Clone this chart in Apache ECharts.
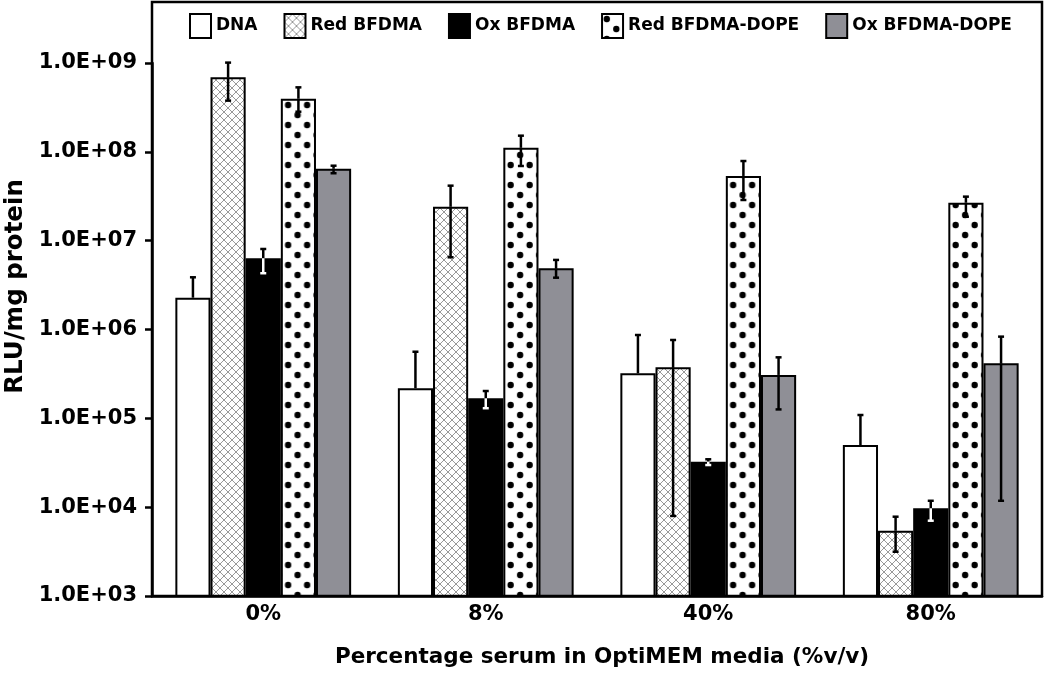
<!DOCTYPE html>
<html><head><meta charset="utf-8">
<script src="https://cdn.jsdelivr.net/npm/echarts@6/dist/echarts.min.js"></script>
<style>html,body{margin:0;padding:0;background:#fff}#c{width:1050px;height:691px}</style>
</head><body><div id="c"></div>
<script>
// ---- data ----
const categories = ['0%', '8%', '40%', '80%'];
const seriesNames = ['DNA', 'Red BFDMA', 'Ox BFDMA', 'Red BFDMA-DOPE', 'Ox BFDMA-DOPE'];
const dna      = [2.28e6, 2.18e5, 3.21e5, 5.01e4];
const redBfdma = [6.9e8, 2.41e7, 3.76e5, 5.43e3];
const oxBfdma  = [6.34e6, 1.68e5, 3.25e4, 9.71e3];
const redDope  = [3.97e8, 1.11e8, 5.35e7, 2.68e7];
const oxDope   = [6.46e7, 4.89e6, 3.08e5, 4.17e5];
// error bar ends (upper / lower); null = not shown
const dnaHigh      = [3.87e6, 5.62e5, 8.67e5, 1.09e5];
const dnaLow       = [null, null, null, null];
const redBfdmaHigh = [1.01e9, 4.16e7, 7.62e5, 7.81e3];
const redBfdmaLow  = [3.77e8, 6.5e6, 7.96e3, 3.15e3];
const oxBfdmaHigh  = [8.06e6, 2.03e5, 3.46e4, 1.18e4];
const oxBfdmaLow   = [4.3e6, 1.30e5, 2.98e4, 7.04e3];
const redDopeHigh  = [5.32e8, 1.52e8, 7.88e7, 3.13e7];
const redDopeLow   = [2.83e8, 6.93e7, 2.87e7, 1.86e7];
const oxDopeHigh   = [6.98e7, 6.07e6, 4.86e5, 8.31e5];
const oxDopeLow    = [5.74e7, 3.83e6, 1.26e5, 1.18e4];
const yTickLabels = ['1.0E+03', '1.0E+04', '1.0E+05', '1.0E+06', '1.0E+07', '1.0E+08', '1.0E+09'];
const xAxisTitle = 'Percentage serum in OptiMEM media (%v/v)';
const yAxisTitle = 'RLU/mg protein';

// ---- patterns ----
function hatchCanvas() {
  const s = 8;
  const c = document.createElement('canvas'); c.width = s; c.height = s;
  const g = c.getContext('2d');
  g.fillStyle = '#fff'; g.fillRect(0, 0, s, s);
  g.strokeStyle = '#999'; g.lineWidth = 1;
  g.beginPath();
  g.moveTo(-1, -1); g.lineTo(s + 1, s + 1);
  g.moveTo(s + 1, -1); g.lineTo(-1, s + 1);
  g.stroke();
  return c;
}
function dotCanvas() {
  const c = document.createElement('canvas'); c.width = 19; c.height = 20;
  const g = c.getContext('2d');
  g.fillStyle = '#fff'; g.fillRect(0, 0, 19, 20);
  g.fillStyle = '#000';
  [[4.75, 5], [14.25, 15]].forEach(p => { g.beginPath(); g.arc(p[0], p[1], 3.2, 0, Math.PI * 2); g.fill(); });
  return c;
}
const hatch = { image: hatchCanvas(), repeat: 'repeat' };
const dots = { image: dotCanvas(), repeat: 'repeat' };

const barValues = [dna, redBfdma, oxBfdma, redDope, oxDope];
const highs = [dnaHigh, redBfdmaHigh, oxBfdmaHigh, redDopeHigh, oxDopeHigh];
const lows = [dnaLow, redBfdmaLow, oxBfdmaLow, redDopeLow, oxDopeLow];
const fills = ['#ffffff', hatch, '#000000', dots, '#8f8f96'];
const innerErrColor = ['#000', '#000', '#fff', '#000', '#000'];
const CAT_GAP = 0.21;

function errRender(k) {
  return function (params, api) {
    const ci = api.value(0);
    const val = api.value(3);
    const p0 = api.coord([0, val]);
    const p1 = api.coord([1, val]);
    const band = p1[0] - p0[0];
    const bw = band * (1 - CAT_GAP) / 5;
    const base = api.coord([ci, val]);
    const x = base[0] + (k - 2) * bw;
    const yv = base[1];
    const yh = api.coord([ci, api.value(1)])[1];
    const lowV = api.value(2);
    const cap = 3;
    const ch = [];
    const st = { stroke: '#000', lineWidth: 2.5 };
    ch.push({ type: 'line', shape: { x1: x, y1: yv, x2: x, y2: yh }, style: st });
    ch.push({ type: 'line', shape: { x1: x - cap, y1: yh, x2: x + cap, y2: yh }, style: st });
    if (lowV && !isNaN(lowV) && lowV < val) {
      const yl = api.coord([ci, lowV])[1];
      const s2 = { stroke: innerErrColor[k], lineWidth: 2.5 };
      ch.push({ type: 'line', shape: { x1: x, y1: yv, x2: x, y2: yl }, style: s2 });
      ch.push({ type: 'line', shape: { x1: x - cap, y1: yl, x2: x + cap, y2: yl }, style: s2 });
    }
    return { type: 'group', children: ch };
  };
}

const series = [];
seriesNames.forEach((name, k) => {
  series.push({
    name: name, type: 'bar', barGap: '0%', barCategoryGap: (CAT_GAP * 100) + '%',
    data: barValues[k],
    itemStyle: { color: fills[k], borderColor: '#000', borderWidth: 2 },
    emphasis: { disabled: true }, z: 2
  });
});
seriesNames.forEach((name, k) => {
  series.push({
    name: name + ' err', type: 'custom', z: 5, silent: true,
    renderItem: errRender(k),
    encode: { x: 0, y: 1 },
    data: categories.map((c, i) => [i, highs[k][i], lows[k][i] == null ? barValues[k][i] : lows[k][i], barValues[k][i]])
  });
});

const chart = echarts.init(document.getElementById('c'), null, { renderer: 'canvas' });
const FONT = '"DejaVu Sans", sans-serif';
chart.setOption({
  animation: false,
  backgroundColor: '#fff',
  textStyle: { fontFamily: FONT },
  grid: { left: 152, right: 8, top: 63, bottom: 95, containLabel: false, outerBoundsMode: 'none' },
  legend: {
    data: seriesNames, left: 184, top: 8, icon: 'rect', itemWidth: 21, itemHeight: 24, itemGap: 26,
    textStyle: { fontSize: 17, fontWeight: 'bold', color: '#000', fontFamily: FONT }
  },
  xAxis: {
    type: 'category', data: categories,
    axisLine: { lineStyle: { color: '#000', width: 2.5 } },
    axisTick: { show: false },
    axisLabel: { fontSize: 21, fontWeight: 'bold', color: '#000', margin: 8 },
    name: xAxisTitle, nameLocation: 'middle', nameGap: 50,
    nameTextStyle: { fontSize: 21.5, fontWeight: 'bold', color: '#000', padding: [0, 0, 0, 10] }
  },
  yAxis: {
    type: 'log', logBase: 10, min: 1e3, max: 1e9,
    axisLine: { show: true, lineStyle: { color: '#000', width: 2.5 } },
    axisTick: { show: true, length: 7, lineStyle: { color: '#000', width: 2.5 } },
    minorTick: { show: false },
    splitLine: { show: false },
    axisLabel: {
      fontSize: 21, fontWeight: 'bold', color: '#000', margin: 15,
      formatter: v => yTickLabels[Math.round(Math.log10(v)) - 3]
    },
    name: yAxisTitle, nameLocation: 'middle', nameGap: 124, nameRotate: 90,
    nameTextStyle: { fontSize: 24.5, fontWeight: 'bold', color: '#000', padding: [0, 0, 0, 86] }
  },
  graphic: [{
    type: 'rect', shape: { x: 152, y: 2, width: 890, height: 594 },
    style: { fill: null, stroke: '#000', lineWidth: 2.5 }, z: 10, silent: true
  }],
  series: series
});

// align dot pattern phase to each dotted bar
(function () {
  const c0 = chart.convertToPixel({ xAxisIndex: 0 }, 0);
  const c1 = chart.convertToPixel({ xAxisIndex: 0 }, 1);
  const band = c1 - c0;
  const bw = band * (1 - CAT_GAP) / 5;
  const data = redDope.map((v, i) => {
    const center = chart.convertToPixel({ xAxisIndex: 0 }, i);
    const left = center + 0.5 * bw;
    return { value: v, itemStyle: { color: { image: dotCanvas(), repeat: 'repeat', x: left + 2.5, y: 0 } } };
  });
  chart.setOption({ series: [{}, {}, {}, { data: data }] });
})();
</script></body></html>
